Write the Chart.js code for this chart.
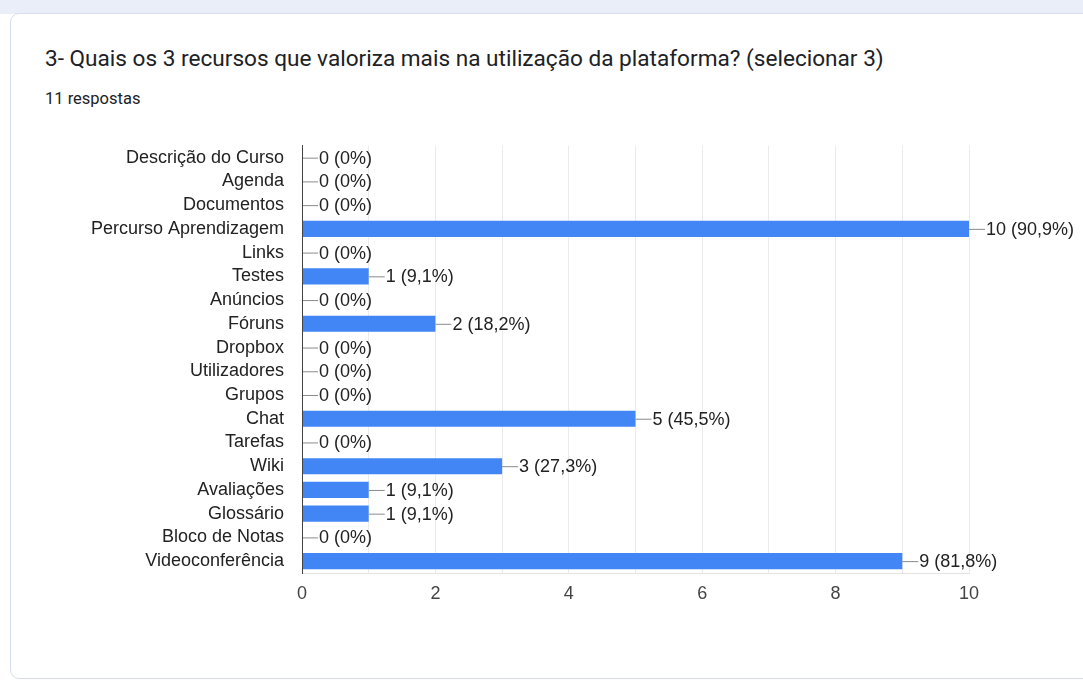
<!DOCTYPE html>
<html>
<head>
<meta charset="utf-8">
<script src="https://cdn.jsdelivr.net/npm/chart.js@4"></script>
<style>
  html, body { margin: 0; padding: 0; }
  body { width: 1083px; height: 680px; background: #fff; position: relative; overflow: hidden; }
  .topbar { position: absolute; left: 0; top: 0; width: 1083px; height: 14px; background: #e9eef8; }
  .card {
    position: absolute; left: 10px; top: 13px; width: 1100px; height: 664px;
    background: #fff; border: 1px solid #d6deee; border-radius: 9px;
  }
  .title {
    position: absolute; left: 45px; top: 45px; white-space: nowrap;
    font-family: Roboto, "Noto Sans", sans-serif; font-size: 22.6px; color: #202124;
  }
  .sub {
    position: absolute; left: 45px; top: 89px;
    font-family: Roboto, "Noto Sans", sans-serif; font-size: 16.5px; color: #202124;
  }
  #wrap { position: absolute; left: 0; top: 117px; width: 1083px; height: 503px; }
</style>
</head>
<body>
<div class="topbar"></div>
<div class="card"></div>
<div class="title">3- Quais os 3 recursos que valoriza mais na utilização da plataforma? (selecionar 3)</div>
<div class="sub">11 respostas</div>
<div id="wrap"><canvas id="chartCanvas"></canvas></div>
<script>
// respostas por recurso (11 respondentes)
const categories = [
  'Descrição do Curso', 'Agenda', 'Documentos', 'Percurso Aprendizagem', 'Links',
  'Testes', 'Anúncios', 'Fóruns', 'Dropbox', 'Utilizadores', 'Grupos', 'Chat',
  'Tarefas', 'Wiki', 'Avaliações', 'Glossário', 'Bloco de Notas', 'Videoconferência'
];
const counts = [0, 0, 0, 10, 0, 1, 0, 2, 0, 0, 0, 5, 0, 3, 1, 1, 0, 9];
const totalRespostas = 11;
const xTicks = [0, 2, 4, 6, 8, 10];

const FONT = '"Liberation Sans", Arial, sans-serif';

function pctLabel(v) {
  const p = (v / totalRespostas * 100).toFixed(1).replace(/\.0$/, '').replace('.', ',');
  return v + ' (' + p + '%)';
}

// leader line + "n (p%)" next to each bar
const valueLabels = {
  id: 'valueLabels',
  afterDatasetsDraw(chart) {
    const ctx = chart.ctx;
    const meta = chart.getDatasetMeta(0);
    const xs = chart.scales.x;
    ctx.save();
    ctx.font = '18px ' + FONT;
    ctx.textBaseline = 'middle';
    meta.data.forEach((bar, i) => {
      const v = counts[i];
      const x0 = xs.getPixelForValue(v);
      const y = bar.y;
      ctx.strokeStyle = '#8a8a8a';
      ctx.lineWidth = 1;
      ctx.beginPath();
      ctx.moveTo(x0, y + 0.5);
      ctx.lineTo(x0 + 16, y + 0.5);
      ctx.stroke();
      ctx.fillStyle = '#222';
      ctx.fillText(pctLabel(v), x0 + 17, y + 1);
    });
    ctx.restore();
  }
};

document.addEventListener('DOMContentLoaded', function () {
  const ctx = document.getElementById('chartCanvas').getContext('2d');
  new Chart(ctx, {
    type: 'bar',
    data: {
      labels: categories,
      datasets: [{
        data: counts,
        backgroundColor: '#4285f4',
        barPercentage: 0.68,
        categoryPercentage: 1
      }]
    },
    options: {
      indexAxis: 'y',
      responsive: true,
      maintainAspectRatio: false,
      animation: false,
      layout: { padding: { top: 5, right: 114, bottom: 0, left: 0 } },
      plugins: {
        legend: { display: false },
        tooltip: { enabled: false }
      },
      scales: {
        x: {
          min: 0,
          max: 10,
          afterFit(scale) { scale.height = 47; },
          grid: { color: '#ebebeb', drawTicks: false },
          border: { color: '#e3e3e3' },
          ticks: {
            stepSize: 1,
            padding: 10,
            color: '#444',
            font: { family: FONT, size: 18 },
            callback: v => xTicks.includes(v) ? v : ''
          }
        },
        y: {
          afterFit(scale) { scale.width = 302; },
          grid: { display: false, drawTicks: false },
          border: { color: '#444', z: 1 },
          ticks: {
            padding: 18,
            autoSkip: false,
            color: '#222',
            font: { family: FONT, size: 18 }
          }
        }
      }
    },
    plugins: [valueLabels]
  });
});
</script>
</body>
</html>
